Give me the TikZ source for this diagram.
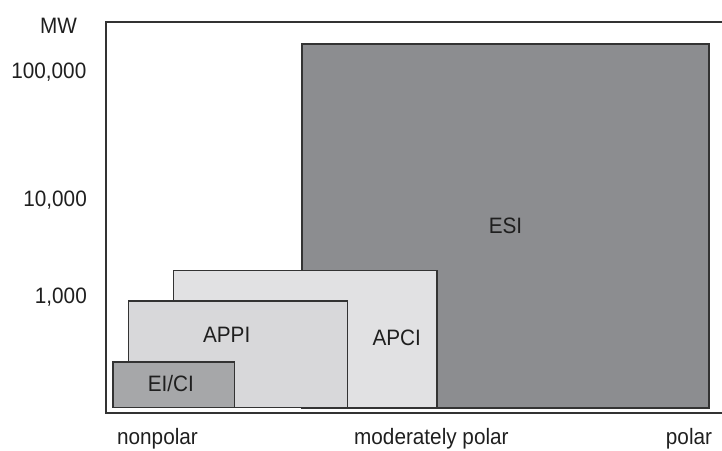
\documentclass[tikz,border=0pt]{standalone}
\usepackage{fontspec}
\setmainfont{Liberation Sans}[FakeStretch=0.93]
\definecolor{esigray}{HTML}{8C8D90}
\definecolor{apcigray}{HTML}{E1E1E3}
\definecolor{appigray}{HTML}{D8D8DA}
\definecolor{eicigray}{HTML}{A6A7A9}
\definecolor{edge}{HTML}{333333}
\begin{document}
\begin{tikzpicture}[x=1pt,y=-1pt,
  region/.style={draw=edge, line width=1.1pt, anchor=north west, inner sep=0pt, outer sep=0pt},
  lbl/.style={font=\fontsize{22.3}{26}\selectfont, text=black!88, inner sep=0pt, anchor=base},
  ylbl/.style={lbl, anchor=base east}]
\useasboundingbox (0,0) rectangle (722,450);
% frame
\coordinate (ftr) at (722,22);
\coordinate (ftl) at (106,22);
\coordinate (fbl) at (106,413);
\coordinate (fbr) at (722,413);
\draw[edge, line width=1.4pt] (ftr) -- (ftl) -- (fbl) -- (fbr);
% regions
\node[region, fill=esigray, minimum width=407, minimum height=364] (esi) at (302,44) {};
\node[region, fill=apcigray, minimum width=263.5, minimum height=137] (apci) at (173.5,270.5) {};
\node[region, fill=appigray, minimum width=219, minimum height=106.5] (appi) at (128.5,301) {};
\node[region, fill=eicigray, minimum width=121.5, minimum height=45.5] (eici) at (113,362) {};
% region labels
\node[lbl] (esil) at (505.5,233.3) {ESI};
\node[lbl] (apcil) at (396.7,345.7) {APCI};
\node[lbl] (appil) at (226.7,342.3) {APPI};
\node[lbl] (eicil) at (170.8,391.7) {EI/CI};
% axis labels
\node[lbl] (mw) at (58.5,33.3) {MW};
\node[ylbl] (y5) at (86.5,78.3) {100,000};
\node[ylbl] (y4) at (87,206) {10,000};
\node[ylbl] (y3) at (87,303) {1,000};
\node[lbl] (xnp) at (157.5,444.5) {nonpolar};
\node[lbl] (xmp) at (431.4,444.5) {moderately polar};
\node[lbl] (xp) at (689,444.5) {polar};
\end{tikzpicture}
\end{document}
